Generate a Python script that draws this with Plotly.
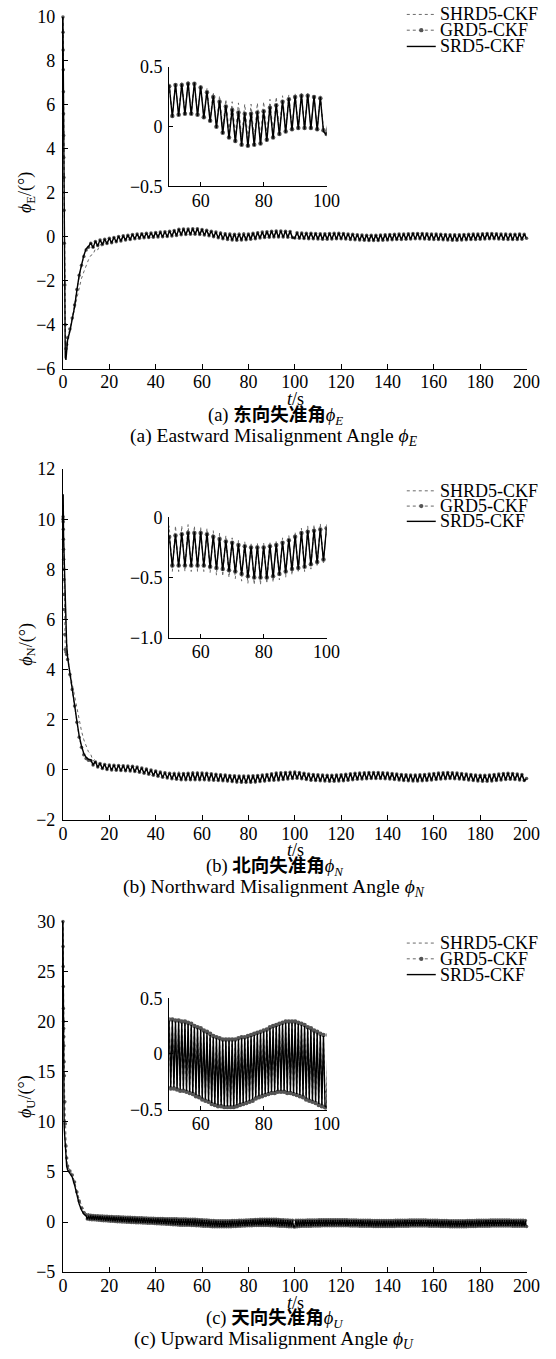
import plotly.graph_objects as go

W, H = 556, 1359
FONT = "Liberation Serif"
CAP_FONT = "Liberation Serif, Noto Sans CJK SC"

SERIES_NAMES = ["SHRD5-CKF", "GRD5-CKF", "SRD5-CKF"]
X_TICKS = [0, 20, 40, 60, 80, 100, 120, 140, 160, 180, 200]
INSET_X_TICKS = [60, 80, 100]

# time grids (s)
T_EARLY = [0, 0.05, 0.1, 0.15, 0.2, 0.25, 0.3, 0.35, 0.4, 0.5, 0.6, 0.8, 1.0, 1.3, 1.6]
T_AB = T_EARLY + list(range(2, 201))
T_C = T_EARLY + list(range(2, 10)) + [10 + 0.5 * i for i in range(381)]

# ---------------- (a) eastward misalignment angle (deg) ----------------
SRD_A = [10.0, 9.0, 8.0, 6.8, 5.6, 4.4, 3.2, 2.0, 0.8, -1.2, -2.8, -4.6, -5.5, -5.6, -5.0,
         -4.7, -4.3, -3.75, -3.2, -2.45, -1.75, -1.3, -0.85,
         -0.55, -0.45, -0.28, -0.5, -0.2, -0.42, -0.14, -0.36, -0.1, -0.32,
         -0.06, -0.28, -0.02, -0.24, 0.02, -0.2, 0.05, -0.16, 0.08, -0.13,
         0.11, -0.1, 0.13, -0.08, 0.15, -0.06, 0.17, -0.05, 0.18, -0.03,
         0.2, -0.02, 0.22, -0.01, 0.24, 0.0, 0.26, 0.02, 0.29, 0.05,
         0.35, 0.08, 0.36, 0.09, 0.36, 0.1, 0.37, 0.1, 0.37, 0.09,
         0.34, 0.07, 0.3, 0.04, 0.26, -0.01, 0.22, -0.06, 0.18, -0.1,
         0.15, -0.13, 0.13, -0.16, 0.12, -0.17, 0.12, -0.16, 0.13, -0.15,
         0.14, -0.12, 0.17, -0.1, 0.19, -0.07, 0.22, -0.05, 0.24, -0.03,
         0.26, -0.02, 0.27, -0.02, 0.27, -0.02, 0.26, -0.03, 0.25, -0.04,
         -0.07, 0.19, -0.08, 0.18, -0.09, 0.17, -0.1, 0.17, -0.1, 0.16,
         -0.11, 0.15, -0.12, 0.15, -0.12, 0.16, -0.11, 0.17, -0.1, 0.17,
         -0.1, 0.16, -0.11, 0.14, -0.13, 0.12, -0.15, 0.1, -0.16, 0.09,
         -0.17, 0.08, -0.18, 0.08, -0.18, 0.08, -0.18, 0.09, -0.17, 0.1,
         -0.16, 0.11, -0.15, 0.12, -0.14, 0.13, -0.13, 0.14, -0.12, 0.15,
         -0.11, 0.16, -0.1, 0.16, -0.1, 0.16, -0.11, 0.15, -0.12, 0.14,
         -0.13, 0.13, -0.14, 0.12, -0.15, 0.11, -0.16, 0.1, -0.17, 0.1,
         -0.17, 0.1, -0.16, 0.11, -0.15, 0.12, -0.14, 0.13, -0.13, 0.14,
         -0.12, 0.15, -0.11, 0.16, -0.1, 0.16, -0.1, 0.15, -0.11, 0.14,
         -0.12, 0.13, -0.13, 0.12, -0.14, 0.12, -0.13, 0.13, -0.12, 0.12,
         -0.08]
GRD_A = [10.0, 9.3, 8.5, 7.6, 6.6, 5.6, 4.6, 3.6, 2.7, 1.2, -0.3, -2.2, -4.0, -5.1, -4.9,
         -4.6, -4.2, -3.7, -3.1, -2.4, -1.75, -1.3, -0.9,
         -0.6, -0.48, -0.3, -0.48, -0.22, -0.4, -0.15, -0.35, -0.11, -0.31,
         -0.07, -0.27, -0.03, -0.23, 0.01, -0.19, 0.04, -0.15, 0.07, -0.12,
         0.1, -0.09, 0.12, -0.07, 0.14, -0.05, 0.16, -0.04, 0.17, -0.02,
         0.19, -0.01, 0.21, 0.0, 0.23, 0.01, 0.25, 0.03, 0.28, 0.06,
         0.34, 0.09, 0.35, 0.1, 0.35, 0.11, 0.36, 0.11, 0.36, 0.1,
         0.33, 0.08, 0.29, 0.05, 0.25, 0.0, 0.21, -0.05, 0.17, -0.09,
         0.14, -0.12, 0.12, -0.15, 0.11, -0.16, 0.11, -0.15, 0.12, -0.14,
         0.13, -0.11, 0.16, -0.09, 0.18, -0.06, 0.21, -0.04, 0.23, -0.02,
         0.25, -0.01, 0.26, -0.01, 0.26, -0.01, 0.25, -0.02, 0.24, -0.03,
         -0.06, 0.18, -0.07, 0.17, -0.08, 0.16, -0.09, 0.16, -0.09, 0.15,
         -0.1, 0.14, -0.11, 0.14, -0.11, 0.15, -0.1, 0.16, -0.09, 0.16,
         -0.09, 0.15, -0.1, 0.13, -0.12, 0.11, -0.14, 0.09, -0.15, 0.08,
         -0.16, 0.07, -0.17, 0.07, -0.17, 0.07, -0.17, 0.08, -0.16, 0.09,
         -0.15, 0.1, -0.14, 0.11, -0.13, 0.12, -0.12, 0.13, -0.11, 0.14,
         -0.1, 0.15, -0.09, 0.15, -0.09, 0.15, -0.1, 0.14, -0.11, 0.13,
         -0.12, 0.12, -0.13, 0.11, -0.14, 0.1, -0.15, 0.09, -0.16, 0.09,
         -0.16, 0.09, -0.15, 0.1, -0.14, 0.11, -0.13, 0.12, -0.12, 0.13,
         -0.11, 0.14, -0.1, 0.15, -0.09, 0.15, -0.09, 0.14, -0.1, 0.13,
         -0.11, 0.12, -0.12, 0.11, -0.13, 0.11, -0.12, 0.12, -0.11, 0.11,
         -0.07]
SHRD_A = [10.0, 9.1, 8.1, 7.0, 5.9, 4.8, 3.7, 2.6, 1.5, -0.4, -2.2, -4.0, -5.0, -5.2, -4.9,
          -4.6, -4.2, -3.8, -3.3, -2.8, -2.3, -1.9, -1.6,
          -1.3, -1.05, -0.85, -0.8, -0.55, -0.6, -0.35, -0.45, -0.2, -0.36,
          -0.1, -0.3, -0.04, -0.25, 0.0, -0.2, 0.04, -0.16, 0.07, -0.13,
          0.1, -0.1, 0.12, -0.08, 0.14, -0.06, 0.16, -0.04, 0.18, -0.02,
          0.2, -0.01, 0.22, 0.0, 0.24, 0.02, 0.27, 0.04, 0.3, 0.07,
          0.36, 0.1, 0.37, 0.11, 0.37, 0.12, 0.38, 0.12, 0.37, 0.12,
          0.35, 0.1, 0.32, 0.07, 0.29, 0.03, 0.26, -0.01, 0.23, -0.04,
          0.21, -0.07, 0.2, -0.09, 0.19, -0.1, 0.19, -0.1, 0.2, -0.09,
          0.21, -0.07, 0.23, -0.05, 0.25, -0.03, 0.26, -0.02, 0.27, -0.01,
          0.28, 0.0, 0.28, 0.0, 0.28, -0.01, 0.27, -0.02, 0.26, -0.03,
          -0.05, 0.2, -0.07, 0.19, -0.08, 0.18, -0.09, 0.18, -0.09, 0.17,
          -0.1, 0.16, -0.11, 0.16, -0.11, 0.17, -0.1, 0.18, -0.09, 0.18,
          -0.09, 0.17, -0.1, 0.15, -0.12, 0.13, -0.14, 0.11, -0.15, 0.1,
          -0.16, 0.09, -0.17, 0.09, -0.17, 0.09, -0.17, 0.1, -0.16, 0.11,
          -0.15, 0.12, -0.14, 0.13, -0.13, 0.14, -0.12, 0.15, -0.11, 0.16,
          -0.1, 0.17, -0.09, 0.17, -0.09, 0.17, -0.1, 0.16, -0.11, 0.15,
          -0.12, 0.14, -0.13, 0.13, -0.14, 0.12, -0.15, 0.11, -0.16, 0.11,
          -0.16, 0.11, -0.15, 0.12, -0.14, 0.13, -0.13, 0.14, -0.12, 0.15,
          -0.11, 0.16, -0.1, 0.17, -0.09, 0.17, -0.09, 0.16, -0.1, 0.15,
          -0.11, 0.14, -0.12, 0.13, -0.13, 0.13, -0.12, 0.14, -0.11, 0.13,
          -0.06]

# ---------------- (b) northward misalignment angle (deg) ----------------
SRD_B = [10.0, 10.6, 11.0, 10.4, 9.9, 9.5, 9.2, 9.0, 8.8, 8.4, 8.0, 7.7, 7.4, 5.8, 5.0,
         4.5, 3.8, 3.2, 2.6, 1.95, 1.35, 0.95, 0.65,
         0.5, 0.42, 0.4, 0.2, 0.33, 0.1, 0.26, 0.04, 0.22, 0.0,
         0.2, -0.02, 0.19, -0.03, 0.18, -0.04, 0.17, -0.05, 0.16, -0.06,
         0.15, -0.08, 0.12, -0.11, 0.08, -0.15, 0.04, -0.19, 0.0, -0.23,
         -0.04, -0.27, -0.08, -0.31, -0.11, -0.34, -0.13, -0.37, -0.14, -0.39,
         -0.15, -0.41, -0.14, -0.41, -0.13, -0.41, -0.12, -0.41, -0.12, -0.41,
         -0.12, -0.41, -0.13, -0.42, -0.15, -0.43, -0.17, -0.44, -0.19, -0.45,
         -0.2, -0.46, -0.22, -0.48, -0.23, -0.5, -0.24, -0.51, -0.24, -0.51,
         -0.24, -0.51, -0.23, -0.5, -0.22, -0.48, -0.2, -0.46, -0.18, -0.44,
         -0.15, -0.43, -0.12, -0.42, -0.11, -0.4, -0.1, -0.38, -0.09, -0.36,
         -0.08, -0.35, -0.1, -0.37, -0.13, -0.4, -0.16, -0.43, -0.18, -0.44,
         -0.19, -0.45, -0.2, -0.46, -0.21, -0.47, -0.21, -0.47, -0.2, -0.46,
         -0.19, -0.45, -0.17, -0.43, -0.15, -0.41, -0.13, -0.39, -0.12, -0.38,
         -0.11, -0.37, -0.1, -0.36, -0.1, -0.36, -0.1, -0.36, -0.11, -0.37,
         -0.12, -0.38, -0.14, -0.4, -0.16, -0.42, -0.18, -0.44, -0.19, -0.45,
         -0.2, -0.46, -0.2, -0.46, -0.19, -0.45, -0.18, -0.44, -0.16, -0.42,
         -0.14, -0.4, -0.12, -0.38, -0.11, -0.37, -0.1, -0.36, -0.11, -0.37,
         -0.12, -0.38, -0.14, -0.4, -0.16, -0.42, -0.18, -0.44, -0.2, -0.46,
         -0.21, -0.47, -0.21, -0.47, -0.2, -0.46, -0.18, -0.44, -0.16, -0.42,
         -0.14, -0.4, -0.13, -0.39, -0.14, -0.4, -0.16, -0.42, -0.18, -0.44,
         -0.36]
GRD_B = [10.0, 10.1, 9.9, 9.6, 9.2, 8.8, 8.4, 8.0, 7.6, 7.0, 6.4, 5.4, 4.8, 4.7, 4.6,
         4.4, 3.8, 3.2, 2.55, 1.9, 1.3, 0.9, 0.6,
         0.45, 0.38, 0.37, 0.19, 0.31, 0.11, 0.25, 0.05, 0.21, 0.01,
         0.19, -0.01, 0.18, -0.02, 0.17, -0.03, 0.16, -0.04, 0.15, -0.05,
         0.14, -0.07, 0.11, -0.1, 0.07, -0.14, 0.03, -0.18, -0.01, -0.22,
         -0.05, -0.26, -0.09, -0.3, -0.12, -0.33, -0.14, -0.36, -0.15, -0.38,
         -0.16, -0.4, -0.15, -0.4, -0.14, -0.4, -0.13, -0.4, -0.13, -0.4,
         -0.13, -0.4, -0.14, -0.41, -0.16, -0.42, -0.18, -0.43, -0.2, -0.44,
         -0.21, -0.45, -0.23, -0.47, -0.24, -0.49, -0.25, -0.5, -0.25, -0.5,
         -0.25, -0.5, -0.24, -0.49, -0.23, -0.47, -0.21, -0.45, -0.19, -0.43,
         -0.16, -0.42, -0.13, -0.41, -0.12, -0.39, -0.11, -0.37, -0.1, -0.35,
         -0.09, -0.34, -0.11, -0.36, -0.14, -0.39, -0.17, -0.42, -0.19, -0.43,
         -0.2, -0.44, -0.21, -0.45, -0.22, -0.46, -0.22, -0.46, -0.21, -0.45,
         -0.2, -0.44, -0.18, -0.42, -0.16, -0.4, -0.14, -0.38, -0.13, -0.37,
         -0.12, -0.36, -0.11, -0.35, -0.11, -0.35, -0.11, -0.35, -0.12, -0.36,
         -0.13, -0.37, -0.15, -0.39, -0.17, -0.41, -0.19, -0.43, -0.2, -0.44,
         -0.21, -0.45, -0.21, -0.45, -0.2, -0.44, -0.19, -0.43, -0.17, -0.41,
         -0.15, -0.39, -0.13, -0.37, -0.12, -0.36, -0.11, -0.35, -0.12, -0.36,
         -0.13, -0.37, -0.15, -0.39, -0.17, -0.41, -0.19, -0.43, -0.21, -0.45,
         -0.22, -0.46, -0.22, -0.46, -0.21, -0.45, -0.19, -0.43, -0.17, -0.41,
         -0.15, -0.39, -0.14, -0.38, -0.15, -0.39, -0.17, -0.41, -0.19, -0.43,
         -0.35]
SHRD_B = [10.0, 10.3, 10.5, 10.0, 9.6, 9.2, 8.9, 8.6, 8.3, 7.9, 7.5, 7.0, 6.6, 5.6, 5.0,
          4.5, 3.9, 3.4, 2.9, 2.4, 1.95, 1.55, 1.2,
          0.95, 0.72, 0.62, 0.35, 0.44, 0.18, 0.31, 0.07, 0.24, 0.01,
          0.22, -0.02, 0.2, -0.03, 0.19, -0.04, 0.18, -0.05, 0.17, -0.06,
          0.16, -0.08, 0.13, -0.11, 0.09, -0.15, 0.05, -0.19, 0.02, -0.23,
          -0.02, -0.28, -0.05, -0.32, -0.07, -0.36, -0.08, -0.39, -0.08, -0.42,
          -0.07, -0.45, -0.07, -0.45, -0.07, -0.45, -0.06, -0.45, -0.07, -0.45,
          -0.08, -0.45, -0.09, -0.46, -0.11, -0.48, -0.13, -0.49, -0.15, -0.5,
          -0.17, -0.51, -0.19, -0.53, -0.2, -0.55, -0.21, -0.56, -0.21, -0.56,
          -0.21, -0.55, -0.2, -0.54, -0.19, -0.52, -0.17, -0.5, -0.15, -0.48,
          -0.12, -0.46, -0.09, -0.45, -0.07, -0.43, -0.06, -0.41, -0.05, -0.39,
          -0.06, -0.38, -0.08, -0.4, -0.11, -0.43, -0.14, -0.46, -0.16, -0.47,
          -0.17, -0.48, -0.18, -0.49, -0.19, -0.5, -0.19, -0.5, -0.18, -0.49,
          -0.17, -0.48, -0.15, -0.46, -0.13, -0.44, -0.11, -0.42, -0.1, -0.41,
          -0.09, -0.4, -0.08, -0.39, -0.08, -0.39, -0.08, -0.39, -0.09, -0.4,
          -0.1, -0.41, -0.12, -0.43, -0.14, -0.45, -0.16, -0.47, -0.17, -0.48,
          -0.18, -0.49, -0.18, -0.49, -0.17, -0.48, -0.16, -0.47, -0.14, -0.45,
          -0.12, -0.43, -0.1, -0.41, -0.09, -0.4, -0.08, -0.39, -0.09, -0.4,
          -0.1, -0.41, -0.12, -0.43, -0.14, -0.45, -0.16, -0.47, -0.18, -0.49,
          -0.19, -0.5, -0.19, -0.5, -0.18, -0.49, -0.16, -0.47, -0.14, -0.45,
          -0.12, -0.43, -0.11, -0.42, -0.12, -0.43, -0.14, -0.45, -0.16, -0.47,
          -0.38]

# ---------------- (c) upward misalignment angle (deg) ----------------
SRD_C = [30.0, 26.0, 22.5, 19.5, 17.0, 15.0, 13.5, 12.3, 11.3, 10.0, 9.2, 8.2, 7.3, 6.3, 5.6,
         5.2, 4.9, 4.5, 3.7, 2.6, 1.8, 1.2, 0.8,
         # 10 .. 49.5 s
         0.62, 0.28, 0.64, 0.24, 0.65, 0.24, 0.64, 0.23, 0.63, 0.21,
         0.62, 0.19, 0.6, 0.17, 0.59, 0.15, 0.57, 0.13, 0.56, 0.11,
         0.55, 0.09, 0.54, 0.08, 0.53, 0.07, 0.52, 0.05, 0.51, 0.04,
         0.5, 0.02, 0.49, 0.01, 0.48, 0.0, 0.47, -0.02, 0.46, -0.03,
         0.45, -0.04, 0.44, -0.05, 0.43, -0.06, 0.42, -0.07, 0.41, -0.08,
         0.4, -0.09, 0.39, -0.1, 0.38, -0.11, 0.37, -0.12, 0.36, -0.13,
         0.35, -0.15, 0.35, -0.16, 0.34, -0.18, 0.34, -0.19, 0.33, -0.21,
         0.33, -0.22, 0.32, -0.24, 0.32, -0.25, 0.31, -0.27, 0.31, -0.29,
         # 50 .. 100 s
         0.3, -0.3, 0.3, -0.3, 0.29, -0.31, 0.29, -0.32, 0.28, -0.32,
         0.28, -0.33, 0.27, -0.34, 0.26, -0.35, 0.24, -0.37, 0.23, -0.38,
         0.22, -0.4, 0.2, -0.41, 0.19, -0.42, 0.17, -0.44, 0.15, -0.45,
         0.14, -0.46, 0.13, -0.46, 0.12, -0.47, 0.12, -0.47, 0.12, -0.47,
         0.12, -0.47, 0.12, -0.46, 0.13, -0.45, 0.14, -0.44, 0.14, -0.43,
         0.15, -0.42, 0.16, -0.41, 0.17, -0.39, 0.18, -0.38, 0.19, -0.37,
         0.2, -0.36, 0.21, -0.35, 0.23, -0.34, 0.24, -0.34, 0.25, -0.33,
         0.26, -0.33, 0.27, -0.33, 0.28, -0.34, 0.28, -0.34, 0.28, -0.35,
         0.28, -0.36, 0.27, -0.37, 0.26, -0.38, 0.25, -0.4, 0.23, -0.41,
         0.22, -0.42, 0.2, -0.43, 0.19, -0.45, 0.17, -0.46, 0.16, -0.47,
         -0.48,
         # 100.5 .. 200 s
         0.16, -0.45, 0.17, -0.43, 0.17, -0.42, 0.18, -0.41, 0.18, -0.41,
         0.19, -0.4, 0.19, -0.4, 0.2, -0.39, 0.2, -0.39, 0.2, -0.38,
         0.21, -0.38, 0.21, -0.37, 0.21, -0.37, 0.22, -0.37, 0.22, -0.36,
         0.22, -0.36, 0.22, -0.36, 0.22, -0.36, 0.22, -0.36, 0.22, -0.36,
         0.22, -0.36, 0.21, -0.37, 0.21, -0.37, 0.2, -0.38, 0.2, -0.38,
         0.19, -0.39, 0.19, -0.39, 0.18, -0.4, 0.18, -0.4, 0.17, -0.41,
         0.17, -0.41, 0.16, -0.42, 0.16, -0.42, 0.15, -0.43, 0.15, -0.43,
         0.14, -0.44, 0.14, -0.44, 0.14, -0.44, 0.14, -0.44, 0.14, -0.44,
         0.14, -0.44, 0.15, -0.43, 0.15, -0.43, 0.16, -0.42, 0.16, -0.42,
         0.17, -0.41, 0.17, -0.41, 0.18, -0.4, 0.18, -0.4, 0.19, -0.39,
         0.19, -0.39, 0.2, -0.38, 0.2, -0.38, 0.2, -0.38, 0.2, -0.38,
         0.19, -0.39, 0.19, -0.39, 0.18, -0.4, 0.18, -0.4, 0.17, -0.41,
         0.17, -0.41, 0.16, -0.42, 0.15, -0.43, 0.15, -0.43, 0.14, -0.44,
         0.14, -0.44, 0.13, -0.45, 0.13, -0.45, 0.12, -0.46, 0.12, -0.46,
         0.12, -0.46, 0.12, -0.46, 0.13, -0.45, 0.13, -0.45, 0.14, -0.44,
         0.14, -0.44, 0.15, -0.43, 0.15, -0.43, 0.16, -0.42, 0.16, -0.42,
         0.17, -0.41, 0.17, -0.41, 0.18, -0.4, 0.18, -0.4, 0.19, -0.39,
         0.19, -0.39, 0.2, -0.38, 0.2, -0.38, 0.2, -0.38, 0.2, -0.38,
         0.2, -0.38, 0.19, -0.39, 0.19, -0.39, 0.18, -0.4, 0.18, -0.4,
         0.17, -0.41, 0.17, -0.41, 0.16, -0.42, 0.16, -0.42, 0.15, -0.43]
GRD_C = [30.0, 27.5, 25.5, 23.5, 21.3, 20.0, 19.3, 18.5, 17.6, 16.0, 14.6, 12.0, 9.8, 7.6, 6.4,
         5.6, 5.1, 4.7, 4.0, 3.0, 2.1, 1.4, 0.95,
         # 10 .. 49.5 s
         0.72, 0.3, 0.7, 0.25, 0.68, 0.24, 0.66, 0.22, 0.64, 0.2,
         0.63, 0.18, 0.61, 0.16, 0.6, 0.14, 0.58, 0.12, 0.57, 0.1,
         0.56, 0.08, 0.55, 0.07, 0.54, 0.06, 0.53, 0.04, 0.52, 0.03,
         0.51, 0.01, 0.5, 0.0, 0.49, -0.01, 0.48, -0.03, 0.47, -0.04,
         0.46, -0.05, 0.45, -0.06, 0.44, -0.07, 0.43, -0.08, 0.42, -0.09,
         0.41, -0.1, 0.4, -0.11, 0.39, -0.12, 0.38, -0.13, 0.37, -0.14,
         0.36, -0.16, 0.36, -0.17, 0.35, -0.19, 0.35, -0.2, 0.34, -0.22,
         0.34, -0.23, 0.33, -0.25, 0.33, -0.26, 0.32, -0.28, 0.32, -0.3,
         # 50 .. 100 s
         0.31, -0.31, 0.31, -0.31, 0.3, -0.32, 0.3, -0.33, 0.29, -0.33,
         0.29, -0.34, 0.28, -0.35, 0.27, -0.36, 0.25, -0.38, 0.24, -0.39,
         0.23, -0.41, 0.21, -0.42, 0.2, -0.43, 0.18, -0.45, 0.16, -0.46,
         0.15, -0.47, 0.14, -0.47, 0.13, -0.48, 0.13, -0.48, 0.13, -0.48,
         0.13, -0.48, 0.13, -0.47, 0.14, -0.46, 0.15, -0.45, 0.15, -0.44,
         0.16, -0.43, 0.17, -0.42, 0.18, -0.4, 0.19, -0.39, 0.2, -0.38,
         0.21, -0.37, 0.22, -0.36, 0.24, -0.35, 0.25, -0.35, 0.26, -0.34,
         0.27, -0.34, 0.28, -0.34, 0.29, -0.35, 0.29, -0.35, 0.29, -0.36,
         0.29, -0.37, 0.28, -0.38, 0.27, -0.39, 0.26, -0.41, 0.24, -0.42,
         0.23, -0.43, 0.21, -0.44, 0.2, -0.46, 0.18, -0.47, 0.17, -0.48,
         -0.49,
         # 100.5 .. 200 s
         0.17, -0.46, 0.18, -0.44, 0.18, -0.43, 0.19, -0.42, 0.19, -0.42,
         0.2, -0.41, 0.2, -0.41, 0.21, -0.4, 0.21, -0.4, 0.21, -0.39,
         0.22, -0.39, 0.22, -0.38, 0.22, -0.38, 0.23, -0.38, 0.23, -0.37,
         0.23, -0.37, 0.23, -0.37, 0.23, -0.37, 0.23, -0.37, 0.23, -0.37,
         0.23, -0.37, 0.22, -0.38, 0.22, -0.38, 0.21, -0.39, 0.21, -0.39,
         0.2, -0.4, 0.2, -0.4, 0.19, -0.41, 0.19, -0.41, 0.18, -0.42,
         0.18, -0.42, 0.17, -0.43, 0.17, -0.43, 0.16, -0.44, 0.16, -0.44,
         0.15, -0.45, 0.15, -0.45, 0.15, -0.45, 0.15, -0.45, 0.15, -0.45,
         0.15, -0.45, 0.16, -0.44, 0.16, -0.44, 0.17, -0.43, 0.17, -0.43,
         0.18, -0.42, 0.18, -0.42, 0.19, -0.41, 0.19, -0.41, 0.2, -0.4,
         0.2, -0.4, 0.21, -0.39, 0.21, -0.39, 0.21, -0.39, 0.21, -0.39,
         0.2, -0.4, 0.2, -0.4, 0.19, -0.41, 0.19, -0.41, 0.18, -0.42,
         0.18, -0.42, 0.17, -0.43, 0.16, -0.44, 0.16, -0.44, 0.15, -0.45,
         0.15, -0.45, 0.14, -0.46, 0.14, -0.46, 0.13, -0.47, 0.13, -0.47,
         0.13, -0.47, 0.13, -0.47, 0.14, -0.46, 0.14, -0.46, 0.15, -0.45,
         0.15, -0.45, 0.16, -0.44, 0.16, -0.44, 0.17, -0.43, 0.17, -0.43,
         0.18, -0.42, 0.18, -0.42, 0.19, -0.41, 0.19, -0.41, 0.2, -0.4,
         0.2, -0.4, 0.21, -0.39, 0.21, -0.39, 0.21, -0.39, 0.21, -0.39,
         0.21, -0.39, 0.2, -0.4, 0.2, -0.4, 0.19, -0.41, 0.19, -0.41,
         0.18, -0.42, 0.18, -0.42, 0.17, -0.43, 0.17, -0.43, 0.16, -0.44]
SHRD_C = [30.0, 26.5, 23.2, 20.4, 18.0, 16.0, 14.5, 13.2, 12.1, 10.6, 9.6, 8.4, 7.5, 6.6, 6.0,
          5.5, 5.1, 4.7, 4.0, 3.0, 2.3, 1.7, 1.25,
          # 10 .. 49.5 s
          0.95, 0.6, 0.85, 0.45, 0.75, 0.38, 0.68, 0.34, 0.63, 0.3,
          0.6, 0.27, 0.57, 0.24, 0.55, 0.22, 0.53, 0.2, 0.51, 0.18,
          0.5, 0.16, 0.48, 0.15, 0.47, 0.13, 0.46, 0.12, 0.45, 0.11,
          0.44, 0.09, 0.43, 0.08, 0.42, 0.07, 0.41, 0.06, 0.4, 0.05,
          0.39, 0.04, 0.38, 0.03, 0.37, 0.02, 0.36, 0.01, 0.35, 0.0,
          0.34, -0.01, 0.33, -0.02, 0.32, -0.03, 0.31, -0.04, 0.3, -0.05,
          0.29, -0.06, 0.28, -0.08, 0.27, -0.09, 0.26, -0.1, 0.25, -0.12,
          0.24, -0.13, 0.22, -0.14, 0.21, -0.15, 0.2, -0.16, 0.19, -0.17,
          # 50 .. 100 s
          0.18, -0.18, 0.18, -0.18, 0.17, -0.19, 0.16, -0.2, 0.16, -0.2,
          0.15, -0.21, 0.14, -0.22, 0.13, -0.23, 0.12, -0.24, 0.1, -0.26,
          0.09, -0.27, 0.07, -0.29, 0.06, -0.3, 0.04, -0.32, 0.03, -0.33,
          0.02, -0.34, 0.01, -0.35, 0.01, -0.35, 0.0, -0.36, 0.0, -0.36,
          0.01, -0.35, 0.01, -0.35, 0.02, -0.34, 0.03, -0.33, 0.04, -0.32,
          0.05, -0.31, 0.06, -0.3, 0.07, -0.29, 0.08, -0.28, 0.09, -0.27,
          0.1, -0.26, 0.11, -0.25, 0.12, -0.24, 0.13, -0.23, 0.14, -0.22,
          0.15, -0.21, 0.15, -0.21, 0.15, -0.21, 0.15, -0.21, 0.15, -0.21,
          0.14, -0.22, 0.13, -0.23, 0.12, -0.24, 0.11, -0.25, 0.09, -0.27,
          0.08, -0.28, 0.06, -0.3, 0.05, -0.31, 0.04, -0.32, 0.03, -0.33,
          -0.36,
          # 100.5 .. 200 s
          0.05, -0.34, 0.06, -0.32, 0.06, -0.31, 0.07, -0.3, 0.07, -0.3,
          0.08, -0.29, 0.08, -0.29, 0.09, -0.28, 0.09, -0.28, 0.09, -0.27,
          0.1, -0.27, 0.1, -0.26, 0.1, -0.26, 0.11, -0.26, 0.11, -0.25,
          0.11, -0.25, 0.11, -0.25, 0.11, -0.25, 0.11, -0.25, 0.11, -0.25,
          0.11, -0.25, 0.1, -0.26, 0.1, -0.26, 0.09, -0.27, 0.09, -0.27,
          0.08, -0.28, 0.08, -0.28, 0.07, -0.29, 0.07, -0.29, 0.06, -0.3,
          0.06, -0.3, 0.05, -0.31, 0.05, -0.31, 0.04, -0.32, 0.04, -0.32,
          0.03, -0.33, 0.03, -0.33, 0.03, -0.33, 0.03, -0.33, 0.03, -0.33,
          0.03, -0.33, 0.04, -0.32, 0.04, -0.32, 0.05, -0.31, 0.05, -0.31,
          0.06, -0.3, 0.06, -0.3, 0.07, -0.29, 0.07, -0.29, 0.08, -0.28,
          0.08, -0.28, 0.09, -0.27, 0.09, -0.27, 0.09, -0.27, 0.09, -0.27,
          0.08, -0.28, 0.08, -0.28, 0.07, -0.29, 0.07, -0.29, 0.06, -0.3,
          0.06, -0.3, 0.05, -0.31, 0.04, -0.32, 0.04, -0.32, 0.03, -0.33,
          0.03, -0.33, 0.02, -0.34, 0.02, -0.34, 0.01, -0.35, 0.01, -0.35,
          0.01, -0.35, 0.01, -0.35, 0.02, -0.34, 0.02, -0.34, 0.03, -0.33,
          0.03, -0.33, 0.04, -0.32, 0.04, -0.32, 0.05, -0.31, 0.05, -0.31,
          0.06, -0.3, 0.06, -0.3, 0.07, -0.29, 0.07, -0.29, 0.08, -0.28,
          0.08, -0.28, 0.09, -0.27, 0.09, -0.27, 0.09, -0.27, 0.09, -0.27,
          0.09, -0.27, 0.08, -0.28, 0.08, -0.28, 0.07, -0.29, 0.07, -0.29,
          0.06, -0.3, 0.06, -0.3, 0.05, -0.31, 0.05, -0.31, 0.04, -0.32]


def px(x):
    return x / W


def py(y):
    return 1 - y / H


STYLES = [
    dict(mode="lines", line=dict(color="#6a6a6a", width=1, dash="dot")),
    dict(mode="lines+markers", line=dict(color="#666666", width=1, dash="dot"),
         marker=dict(size=3.5, color="#555555", symbol="circle")),
    dict(mode="lines", line=dict(color="black", width=1.4)),
]
INSET_MARKER_SIZE = 4.5

PANELS = [
    dict(t=T_AB, ys=[SHRD_A, GRD_A, SRD_A], main=(364, 7), yr=[-6, 10], dtick=2,
         ins=(179, 58), ir=[-0.5, 0.5], itv=[-0.5, 0, 0.5], itt=["\u22120.5", "0", "0.5"],
         ytitle="<i>\u03d5</i><sub>E</sub>/(\u00b0)",
         cap1="(a) <b>东向失准角</b><i>\u03d5</i><sub><i>E</i></sub>",
         cap2="(a) Eastward Misalignment Angle <i>\u03d5</i><sub><i>E</i></sub>",
         leg=[4.5, 20.5, 37]),
    dict(t=T_AB, ys=[SHRD_B, GRD_B, SRD_B], main=(822, 466), yr=[-2, 12], dtick=2,
         ins=(637, 515), ir=[-1, 0], itv=[-1, -0.5, 0], itt=["\u22121.0", "\u22120.5", "0"],
         ytitle="<i>\u03d5</i><sub>N</sub>/(\u00b0)",
         cap1="(b) <b>北向失准角</b><i>\u03d5</i><sub><i>N</i></sub>",
         cap2="(b) Northward Misalignment Angle <i>\u03d5</i><sub><i>N</i></sub>",
         leg=[488, 503.5, 519]),
    dict(t=T_C, ys=[SHRD_C, GRD_C, SRD_C], main=(1281, 925), yr=[-5, 30], dtick=5,
         ins=(1116, 1003), ir=[-0.5, 0.5], itv=[-0.5, 0, 0.5], itt=["\u22120.5", "0", "0.5"],
         ytitle="<i>\u03d5</i><sub>U</sub>/(\u00b0)",
         cap1="(c) <b>天向失准角</b><i>\u03d5</i><sub><i>U</i></sub>",
         cap2="(c) Upward Misalignment Angle <i>\u03d5</i><sub><i>U</i></sub>",
         leg=[947, 963, 979]),
]

MAIN_X = (60, 540)
INS_X = (170, 333)
LEG_X = 416
TITLE_OFFSETS = (31, 48, 69)   # t/s, Chinese caption, English caption (px below axis)

fig = go.Figure()
axis_common = dict(showline=True, linecolor="black", linewidth=1, ticks="inside",
                   tickcolor="black", ticklen=5, showgrid=False, zeroline=False,
                   tickfont=dict(family=FONT, size=18, color="black"))

annotations = []
shapes = []
layout_axes = {}


def ann(x, y, text, family=FONT, size=18, **kw):
    d = dict(x=px(x), y=py(y), xref="paper", yref="paper", text=text, showarrow=False,
             xanchor="center", yanchor="middle",
             font=dict(family=family, size=size, color="black"))
    d.update(kw)
    return d


for i, p in enumerate(PANELS):
    m, n = 2 * i + 1, 2 * i + 2
    mx = "x" if m == 1 else f"x{m}"
    my = "y" if m == 1 else f"y{m}"
    nx, ny = f"x{n}", f"y{n}"
    layout_axes["xaxis" if m == 1 else f"xaxis{m}"] = dict(
        axis_common, domain=[px(MAIN_X[0]), px(MAIN_X[1])], range=[0, 200],
        tickvals=X_TICKS, anchor=my, ticklabelstandoff=-3)
    layout_axes["yaxis" if m == 1 else f"yaxis{m}"] = dict(
        axis_common, domain=[py(p["main"][0]), py(p["main"][1])], range=p["yr"],
        dtick=p["dtick"], tick0=0, anchor=mx, ticklabelstandoff=3)
    layout_axes[f"xaxis{n}"] = dict(
        axis_common, domain=[px(INS_X[0]), px(INS_X[1])], range=[50, 100],
        tickvals=INSET_X_TICKS, anchor=ny, ticklen=4, ticklabelstandoff=-2)
    layout_axes[f"yaxis{n}"] = dict(
        axis_common, domain=[py(p["ins"][0]), py(p["ins"][1])], range=p["ir"],
        tickvals=p["itv"], ticktext=p["itt"], anchor=nx, ticklen=4,
        ticklabelstandoff=2)

    for name, vals, st in zip(SERIES_NAMES, p["ys"], STYLES):
        fig.add_trace(go.Scatter(x=p["t"], y=vals, name=name, xaxis=mx, yaxis=my,
                                 showlegend=False, cliponaxis=False, **st))
    for name, vals, st in zip(SERIES_NAMES, p["ys"], STYLES):
        st_in = dict(st)
        if "marker" in st_in:
            st_in["marker"] = dict(st_in["marker"], size=INSET_MARKER_SIZE)
        fig.add_trace(go.Scatter(x=p["t"], y=vals, name=name, xaxis=nx, yaxis=ny,
                                 showlegend=False, cliponaxis=True, **st_in))

    axis_y = p["main"][0]
    yc = (p["main"][0] + p["main"][1]) / 2
    annotations.append(ann(23, yc, p["ytitle"], textangle=-90))
    annotations.append(ann(301, axis_y + TITLE_OFFSETS[0], "<i>t</i>/s"))
    annotations.append(ann(280, axis_y + TITLE_OFFSETS[1], p["cap1"], family=CAP_FONT, size=18.5))
    annotations.append(ann(279, axis_y + TITLE_OFFSETS[2], p["cap2"], size=19.5))

    # legend (drawn manually to match the compact spacing)
    for k, (name, st) in enumerate(zip(SERIES_NAMES, STYLES)):
        ly = p["leg"][k]
        line = st["line"]
        shapes.append(dict(type="line", xref="paper", yref="paper",
                           x0=px(LEG_X), x1=px(LEG_X + 30), y0=py(ly), y1=py(ly),
                           line=dict(color=line["color"], width=line["width"],
                                     dash=line.get("dash", "solid"))))
        if "marker" in st:
            r = 2.2
            shapes.append(dict(type="circle", xref="paper", yref="paper",
                               x0=px(LEG_X + 15 - r), x1=px(LEG_X + 15 + r),
                               y0=py(ly + r), y1=py(ly - r),
                               fillcolor=st["marker"]["color"], line=dict(width=0)))
        annotations.append(ann(LEG_X + 32, ly, name, xanchor="left"))

fig.update_layout(width=W, height=H, margin=dict(l=0, r=0, t=0, b=0), autosize=False,
                  paper_bgcolor="white", plot_bgcolor="rgba(0,0,0,0)",
                  font=dict(family=FONT, size=18, color="black"),
                  showlegend=False, annotations=annotations, shapes=shapes,
                  **layout_axes)

fig.write_html("out.html", config={"displayModeBar": False},
               post_script="document.body.style.margin='0';document.body.style.overflow='hidden';")
